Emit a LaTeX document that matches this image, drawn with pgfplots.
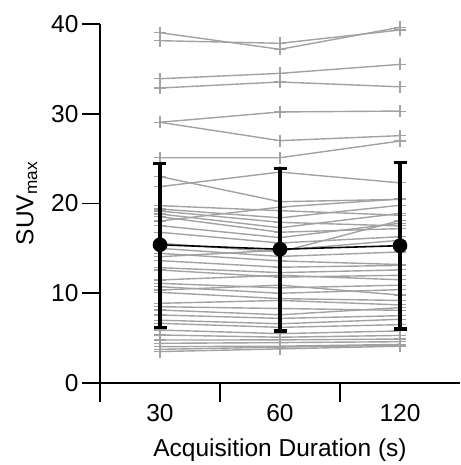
\documentclass[border=0pt]{standalone}
\usepackage{fontspec}
\setmainfont{Liberation Sans}
\usepackage{pgfplots}
\pgfplotsset{compat=1.18}
\definecolor{sgray}{RGB}{162,162,162}
\pgfplotsset{subj/.style={color=sgray, line width=1.4pt, mark=+, mark size=6pt, mark options={solid, line width=1.1pt}}}
\begin{document}
\begin{tikzpicture}
\path[use as bounding box] (-100pt,-82pt) rectangle (360pt,383pt);
\begin{axis}[
  scale only axis, width=360pt, height=359pt,
  xmin=-0.5, xmax=2.5, ymin=0, ymax=40,
  axis x line=bottom, axis y line=left,
  axis line style={-, line width=1.6pt, black},
  xtick={0,1,2}, xticklabels={30,60,120},
  minor xtick={-0.5,0.5,1.5},
  ytick={0,10,20,30,40},
  tick align=outside,
  major tick length=18pt, minor tick length=19pt,
  every tick/.style={black, line width=1.6pt},
  major x tick style={draw=none},
  /pgf/number format/assume math mode=true,
  tick label style={font=\fontsize{24.5}{26}\selectfont},
  label style={font=\fontsize{24.5}{26}\selectfont},
  xlabel={Acquisition Duration (s)},
  xlabel style={yshift=-10pt},
  ylabel={SUV\textsubscript{max}},
  ylabel style={yshift=7pt},
  clip=false,
  clip marker paths=true,
]
% individual subjects
\addplot[subj] coordinates {(0,39.03) (1,37.18) (2,39.63)};
\addplot[subj] coordinates {(0,38.14) (1,37.85) (2,39.33)};
\addplot[subj] coordinates {(0,33.9) (1,34.5) (2,35.5)};
\addplot[subj] coordinates {(0,32.87) (1,33.54) (2,33.0)};
\addplot[subj] coordinates {(0,29.05) (1,30.2) (2,30.3)};
\addplot[subj] coordinates {(0,29.05) (1,27.0) (2,27.56)};
\addplot[subj] coordinates {(0,25.1) (1,25.1) (2,26.96)};
\addplot[subj] coordinates {(0,23.0) (1,20.2) (2,20.46)};
\addplot[subj] coordinates {(0,21.88) (1,23.5) (2,22.3)};
\addplot[subj] coordinates {(0,19.76) (1,19.2) (2,18.7)};
\addplot[subj] coordinates {(0,19.39) (1,18.4) (2,19.8)};
\addplot[subj] coordinates {(0,19.16) (1,17.9) (2,17.5)};
\addplot[subj] coordinates {(0,18.83) (1,17.3) (2,18.9)};
\addplot[subj] coordinates {(0,18.53) (1,16.8) (2,17.2)};
\addplot[subj] coordinates {(0,18.05) (1,19.6) (2,20.5)};
\addplot[subj] coordinates {(0,17.53) (1,16.2) (2,17.8)};
\addplot[subj] coordinates {(0,16.79) (1,15.6) (2,16.3)};
\addplot[subj] coordinates {(0,15.56) (1,14.6) (2,18.1)};
\addplot[subj] coordinates {(0,15.0) (1,14.1) (2,14.6)};
\addplot[subj] coordinates {(0,14.45) (1,13.6) (2,13.2)};
\addplot[subj] coordinates {(0,14.07) (1,14.8) (2,15.9)};
\addplot[subj] coordinates {(0,13.63) (1,12.9) (2,13.1)};
\addplot[subj] coordinates {(0,12.85) (1,12.3) (2,12.6)};
\addplot[subj] coordinates {(0,12.59) (1,11.8) (2,12.0)};
\addplot[subj] coordinates {(0,11.48) (1,12.0) (2,11.5)};
\addplot[subj] coordinates {(0,11.1) (1,10.6) (2,10.9)};
\addplot[subj] coordinates {(0,10.73) (1,10.0) (2,10.4)};
\addplot[subj] coordinates {(0,10.36) (1,10.9) (2,9.8)};
\addplot[subj] coordinates {(0,10.1) (1,9.4) (2,9.2)};
\addplot[subj] coordinates {(0,8.88) (1,9.2) (2,8.7)};
\addplot[subj] coordinates {(0,8.5) (1,8.3) (2,8.1)};
\addplot[subj] coordinates {(0,8.13) (1,7.6) (2,8.4)};
\addplot[subj] coordinates {(0,7.58) (1,7.2) (2,7.5)};
\addplot[subj] coordinates {(0,7.0) (1,6.6) (2,7.1)};
\addplot[subj] coordinates {(0,6.65) (1,6.2) (2,6.5)};
\addplot[subj] coordinates {(0,5.9) (1,5.5) (2,5.8)};
\addplot[subj] coordinates {(0,5.35) (1,5.1) (2,5.3)};
\addplot[subj] coordinates {(0,4.79) (1,4.8) (2,4.9)};
\addplot[subj] coordinates {(0,4.42) (1,4.5) (2,4.6)};
\addplot[subj] coordinates {(0,4.05) (1,4.1) (2,4.3)};
\addplot[subj] coordinates {(0,3.75) (1,4.0) (2,4.2)};
\addplot[subj] coordinates {(0,3.5) (1,3.8) (2,4.1)};
% mean and SD
\addplot[black, line width=1.6pt, mark=*, mark size=6.5pt, mark options={solid, fill=black},
  error bars/.cd, y dir=both, y explicit,
  error bar style={line width=3.3pt, black},
  error mark options={rotate=90, mark size=6.5pt, line width=3.3pt, black}]
  coordinates {(0,15.4) += (0,9.07) -= (0,9.2)
               (1,14.9) += (0,9.0) -= (0,9.1)
               (2,15.3) += (0,9.25) -= (0,9.3)};
\end{axis}
\end{tikzpicture}
\end{document}
